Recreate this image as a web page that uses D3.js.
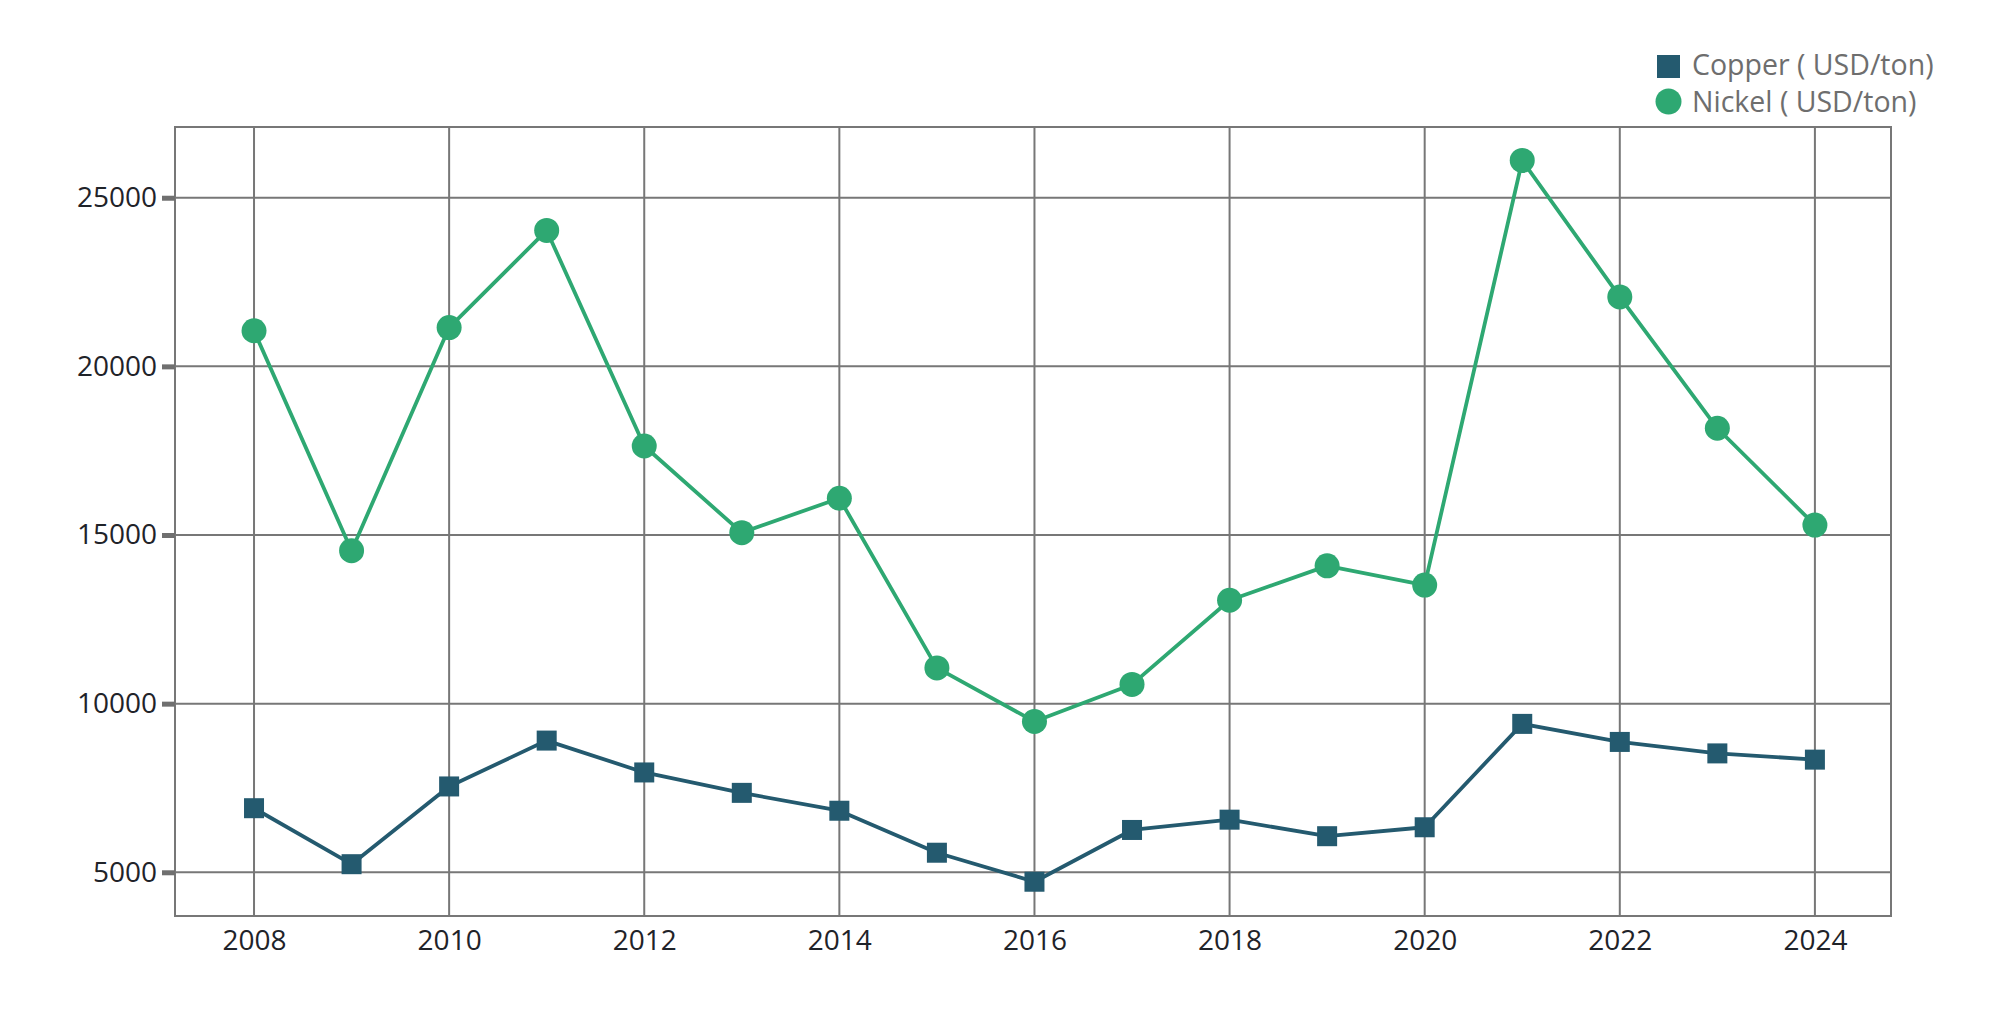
<!DOCTYPE html>
<html>
<head>
<meta charset="utf-8">
<script src="https://cdn.jsdelivr.net/npm/d3@7"></script>
<style>
  html, body { margin: 0; padding: 0; background: #ffffff; }
  svg { display: block; }
</style>
</head>
<body>
<svg id="chart" width="1999" height="1015"></svg>
<script>
const years = [2008, 2009, 2010, 2011, 2012, 2013, 2014, 2015, 2016, 2017, 2018, 2019, 2020, 2021, 2022, 2023, 2024];
const copper = [6900, 5240, 7545, 8905, 7960, 7355, 6825, 5580, 4720, 6255, 6560, 6070, 6335, 9400, 8865, 8525, 8340];
const nickel = [21055, 14535, 21150, 24030, 17640, 15070, 16090, 11060, 9470, 10570, 13065, 14085, 13515, 26105, 22060, 18165, 15295];
const xTickValues = [2008, 2010, 2012, 2014, 2016, 2018, 2020, 2022, 2024];
const yTickValues = [5000, 10000, 15000, 20000, 25000];
const seriesNames = ["Copper ( USD/ton)", "Nickel ( USD/ton)"];

const svg = d3.select("#chart");
const margin = { left: 175, top: 127, right: 108, bottom: 99 };
const W = 1999, H = 1015;
const iw = W - margin.left - margin.right;
const ih = H - margin.top - margin.bottom;

const x = d3.scaleLinear().domain([2007.19, 2024.78]).range([0, iw]);
const y = d3.scaleLinear().domain([3704, 27097]).range([ih, 0]);

const gridColor = "#777777";
const copperColor = "#245a6f";
const nickelColor = "#2ea872";
const font = "'Open Sans', 'Noto Sans', sans-serif";

const g = svg.append("g").attr("transform", `translate(${margin.left},${margin.top})`);

// grid
g.append("g").selectAll("line.vg").data(xTickValues).join("line")
  .attr("x1", d => x(d)).attr("x2", d => x(d))
  .attr("y1", 0).attr("y2", ih)
  .attr("stroke", gridColor).attr("stroke-width", 2);
g.append("g").selectAll("line.hg").data(yTickValues).join("line")
  .attr("x1", 0).attr("x2", iw)
  .attr("y1", d => y(d)).attr("y2", d => y(d))
  .attr("stroke", gridColor).attr("stroke-width", 2);

// border
g.append("rect").attr("x", 0).attr("y", 0).attr("width", iw).attr("height", ih)
  .attr("fill", "none").attr("stroke", gridColor).attr("stroke-width", 2);

// y axis
const yAxis = g.append("g").call(
  d3.axisLeft(y).tickValues(yTickValues).tickSize(13).tickPadding(5).tickFormat(d3.format("d"))
);
yAxis.select(".domain").remove();
yAxis.selectAll(".tick line").attr("stroke", "#6f6f6f").attr("stroke-width", 5);
yAxis.selectAll(".tick text").attr("fill", "#1f2329").style("font-family", font).style("font-size", "28px");

// x axis
const xAxis = g.append("g").attr("transform", `translate(0,${ih})`).call(
  d3.axisBottom(x).tickValues(xTickValues).tickSize(0).tickPadding(14).tickFormat(d3.format("d"))
);
xAxis.select(".domain").remove();
xAxis.selectAll(".tick text").attr("fill", "#1f2329").style("font-family", font).style("font-size", "28px");

const line = d3.line().x((d, i) => x(years[i])).y(d => y(d));

// copper
g.append("path").datum(copper).attr("d", line)
  .attr("fill", "none").attr("stroke", copperColor).attr("stroke-width", 3.8).attr("stroke-linejoin", "round");
g.append("g").selectAll("rect").data(copper).join("rect")
  .attr("x", (d, i) => x(years[i]) - 10).attr("y", d => y(d) - 10)
  .attr("width", 20).attr("height", 20).attr("fill", copperColor);

// nickel
g.append("path").datum(nickel).attr("d", line)
  .attr("fill", "none").attr("stroke", nickelColor).attr("stroke-width", 3.8).attr("stroke-linejoin", "round");
g.append("g").selectAll("circle").data(nickel).join("circle")
  .attr("cx", (d, i) => x(years[i])).attr("cy", d => y(d))
  .attr("r", 12.5).attr("fill", nickelColor);

// legend
const legend = svg.append("g");
legend.append("rect").attr("x", 1657).attr("y", 55).attr("width", 23).attr("height", 23).attr("fill", copperColor);
legend.append("circle").attr("cx", 1668.5).attr("cy", 101.5).attr("r", 13).attr("fill", nickelColor);
legend.selectAll("text").data(seriesNames).join("text")
  .attr("x", 1692).attr("y", (d, i) => 75 + i * 37)
  .attr("fill", "#6e6e6e").style("font-family", font).style("font-size", "28.5px")
  .text(d => d);
</script>
</body>
</html>
